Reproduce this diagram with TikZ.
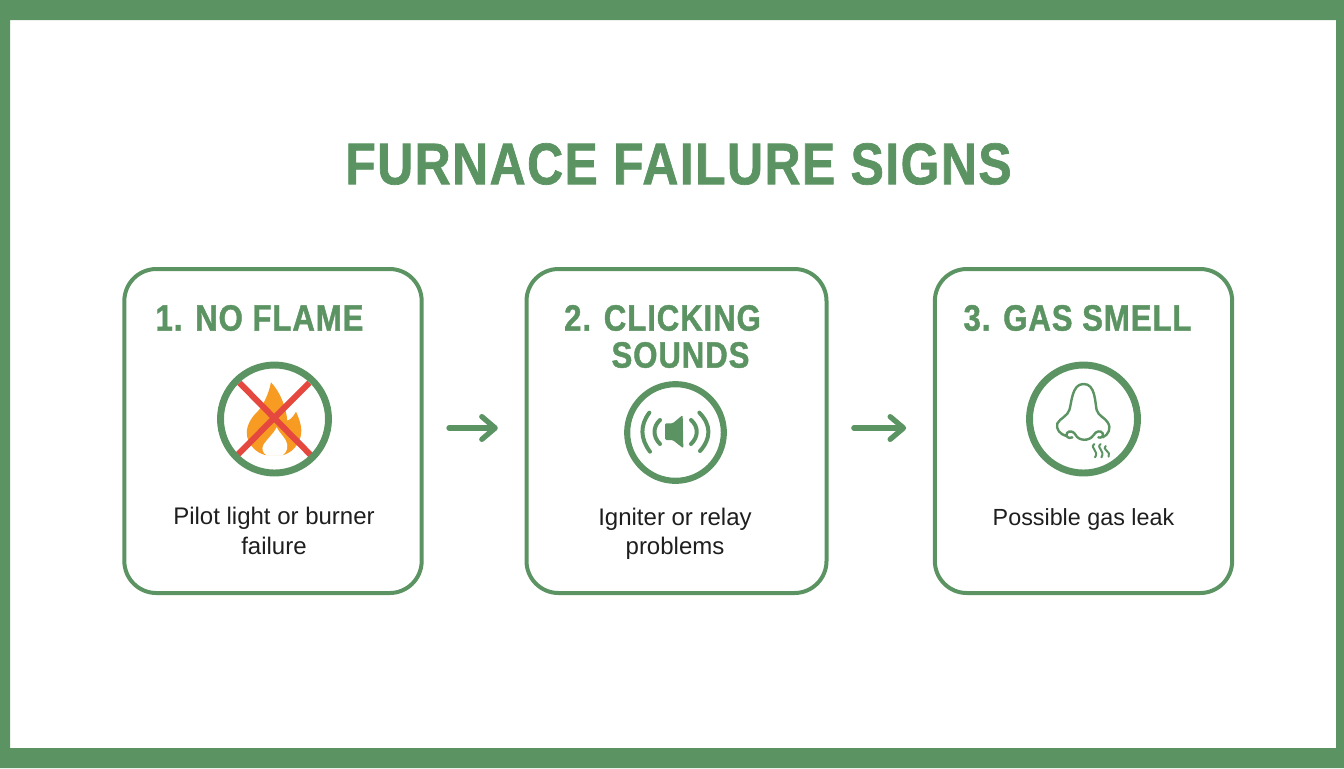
\documentclass[tikz,border=0pt]{standalone}
\usepackage{fontspec}
\usetikzlibrary{arrows.meta}
\setmainfont{Liberation Sans}
\newfontfamily\headfont[FakeStretch=0.85,LetterSpace=2.5,FakeBold=1.2]{Liberation Sans}
\definecolor{leaf}{HTML}{5B9462}
\definecolor{fire}{HTML}{F79B22}
\definecolor{cross}{HTML}{E5483F}
\definecolor{ink}{HTML}{1E1E1E}

\begin{document}
\begin{tikzpicture}[x=.75pt,y=-.75pt,
      card/.style={draw=leaf,line width=3pt,rounded corners=24pt,minimum height=243pt},
      ring/.style={draw=leaf,circle,inner sep=0pt},
      heading/.style={font=\headfont\bfseries\fontsize{27.5}{27.5}\selectfont,text=leaf},
      caption/.style={font=\fontsize{18}{18}\selectfont,text=ink},
      vect/.style={-{Straight Barb[length=10pt,width=17pt,round]},draw=leaf,line width=4pt,
        line cap=round,shorten >=20pt,shorten <=19pt},
      icon/.style={draw=leaf,line width=1.8pt,line cap=round,line join=round}]
    \useasboundingbox (0,0) rectangle (1344,768);
    % frame
    \fill[leaf,even odd rule] (0,0) rectangle (1344,768) (10,20) rectangle (1336,748);
    \node[font=\headfont\bfseries\fontsize{44}{44}\selectfont,text=leaf] (title) at (678.5,164) {FURNACE FAILURE SIGNS};
    % cards
    \node[card,minimum width=223pt] (noflame) at (273,431) {};
    \node[card,minimum width=225pt] (clicking) at (676.5,431) {};
    \node[card,minimum width=223pt] (gassmell) at (1083.5,431) {};
    \draw[vect] ([yshift=2.25pt]noflame.east) -- ([yshift=2.25pt]clicking.west);
    \draw[vect] ([yshift=2.25pt]clicking.east) -- ([yshift=2.25pt]gassmell.west);
    % first card
    \node[heading] (headone) at (259.5,318) {1. NO FLAME};
    \fill[fire,shift={(200,350)},x=.25pt,y=-.25pt] (213,97)
      .. controls (205,135) and (190,165) .. (175,182)
      .. controls (150,205) and (135,235) .. (142,262)
      .. controls (150,290) and (170,308) .. (195,315)
      -- (250,315)
      .. controls (285,305) and (305,270) .. (304,240)
      .. controls (303,220) and (295,200) .. (288,185)
      .. controls (280,200) and (272,208) .. (262,212)
      .. controls (258,170) and (240,125) .. (213,97) -- cycle;
    \fill[white,shift={(200,350)},x=.25pt,y=-.25pt] (230,232)
      .. controls (222,250) and (205,262) .. (190,285)
      .. controls (183,298) and (190,310) .. (200,316)
      -- (248,316)
      .. controls (262,305) and (266,290) .. (258,272)
      .. controls (250,258) and (238,248) .. (230,232) -- cycle;
    \draw[cross,line width=4.5pt,shift={(200,350)},x=.25pt,y=-.25pt] (118,98) -- (335,318) (328,98) -- (112,315);
    \node[ring,line width=5.2pt,minimum size=81pt] (noflameicon) at (274.5,419) {};
    \node[caption,align=center] (textone) at (274,531) {Pilot light or burner\\[4pt]failure};
    % second card
    \node[heading] (headtwo) at (662.5,318) {2. CLICKING};
    \node[heading] (headtwob) at (680.5,355) {SOUNDS};
    \node[ring,line width=4.6pt,minimum size=72.5pt] (clickingicon) at (675.5,432.5) {};
    \fill[leaf,shift={(610,370)},x=.25pt,y=-.25pt,rounded corners=1pt] (165,160) -- (188,160) -- (218,135) -- (220,235) -- (188,210) -- (165,210) -- cycle;
    \draw[icon,line width=3pt,shift={(610,370)},x=.25pt,y=-.25pt]
      (150,150) .. controls (128,170) and (128,200) .. (150,222)
      (118,128) .. controls (90,165) and (90,205) .. (120,245)
      (243,150) .. controls (266,170) and (266,200) .. (243,222)
      (268,128) .. controls (304,165) and (304,205) .. (270,243);
    \node[caption,align=center] (texttwo) at (675,533.5) {Igniter or relay\\[4pt]problems};
    % third card
    \node[heading] (headthree) at (1077.5,318) {3. GAS SMELL};
    \node[ring,line width=5.2pt,minimum size=81pt] (gassmellicon) at (1083.5,419) {};
    \draw[icon,shift={(1015,350)},x=.25pt,y=-.25pt]
      (172,262) .. controls (160,268) and (150,258) .. (156,249)
      .. controls (162,240) and (178,245) .. (182,255)
      .. controls (190,272) and (222,276) .. (236,255)
      .. controls (242,243) and (258,240) .. (263,250)
      .. controls (266,260) and (258,265) .. (250,262)
      (263,262) .. controls (280,255) and (290,235) .. (278,217)
      .. controls (270,203) and (250,198) .. (245,180)
      .. controls (240,160) and (242,100) .. (205,102)
      .. controls (170,102) and (170,160) .. (163,180)
      .. controls (158,198) and (135,205) .. (127,220)
      .. controls (122,238) and (135,252) .. (153,258);
    \draw[icon,line width=1.5pt,shift={(1015,350)},x=.25pt,y=-.25pt]
      (238,282) .. controls (222,294) and (254,302) .. (240,322)
      (257,282) .. controls (241,294) and (273,302) .. (259,322)
      (272,288) .. controls (258,298) and (290,304) .. (281,320);
    \node[caption,font=\fontsize{17.5}{17.5}\selectfont] (textthree) at (1083.5,519) {Possible gas leak};
\end{tikzpicture}
\end{document}
